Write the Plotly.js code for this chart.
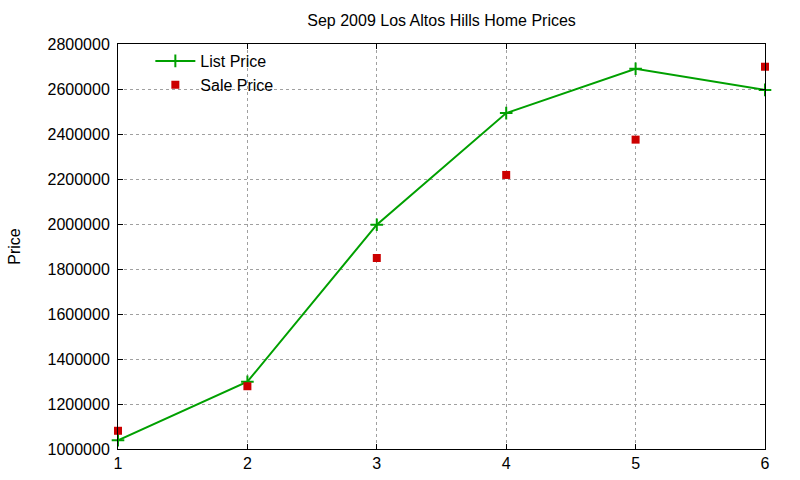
<!DOCTYPE html>
<html>
<head>
<meta charset="utf-8">
<script src="https://cdn.plot.ly/plotly-3.0.1.min.js"></script>
<style>
  html, body { margin: 0; padding: 0; background: #fff; }
  #plot { width: 800px; height: 480px; }
</style>
</head>
<body>
<div id="plot"></div>
<script>
// data
const months = [1, 2, 3, 4, 5, 6];
const listPrice = [1039000, 1299000, 1997000, 2493000, 2690000, 2596000];
const salePrice = [1081000, 1279000, 1849000, 2218000, 2375000, 2699000];
const yTicks = [1000000, 1200000, 1400000, 1600000, 1800000, 2000000, 2200000, 2400000, 2600000, 2800000];

const font = "Liberation Sans, Arial, sans-serif";

const traceList = {
  x: months,
  y: listPrice,
  mode: "lines+markers",
  name: "List Price",
  line: { color: "#00a000", width: 2 },
  marker: { symbol: "cross-thin-open", size: 9, color: "#00a000", line: { color: "#00a000", width: 2 } },
  cliponaxis: false,
};

const traceSale = {
  x: months,
  y: salePrice,
  mode: "markers",
  name: "Sale Price",
  marker: { symbol: "square", size: 8, color: "#cc0000" },
  cliponaxis: false,
};

const axisCommon = {
  showline: true,
  linecolor: "#000",
  linewidth: 1,
  mirror: "ticks",
  ticks: "inside",
  ticklen: 5,
  tickcolor: "#000",
  showgrid: true,
  gridcolor: "#a0a0a0",
  griddash: "dot",
  gridwidth: 1,
  zeroline: false,
  tickfont: { family: font, size: 16, color: "#000" },
};

Plotly.newPlot(
  "plot",
  [traceList, traceSale],
  {
    width: 800,
    height: 480,
    margin: { l: 118, r: 35, t: 44, b: 31 },
    paper_bgcolor: "#fff",
    plot_bgcolor: "#fff",
    font: { family: font, color: "#000" },
    title: {
      text: "Sep 2009 Los Altos Hills Home Prices",
      font: { family: font, size: 16, color: "#000" },
      x: 0.552,
      xanchor: "center",
      y: 0.957,
      yanchor: "middle",
    },
    xaxis: Object.assign({}, axisCommon, {
      range: [1, 6],
      tickvals: months,
      ticktext: months.map(String),
    }),
    yaxis: Object.assign({}, axisCommon, {
      range: [1000000, 2800000],
      tickvals: yTicks,
      ticktext: yTicks.map(String),
      ticklabelstandoff: 4,
      title: { text: "Price", font: { family: font, size: 16, color: "#000" }, standoff: 22 },
    }),
    showlegend: true,
    legend: {
      x: 0.05,
      y: 1.0,
      xanchor: "left",
      yanchor: "top",
      bgcolor: "rgba(0,0,0,0)",
      font: { family: font, size: 16, color: "#000" },
      tracegroupgap: 0,
      itemwidth: 40,
    },
  },
  { displayModeBar: false }
);
</script>
</body>
</html>
